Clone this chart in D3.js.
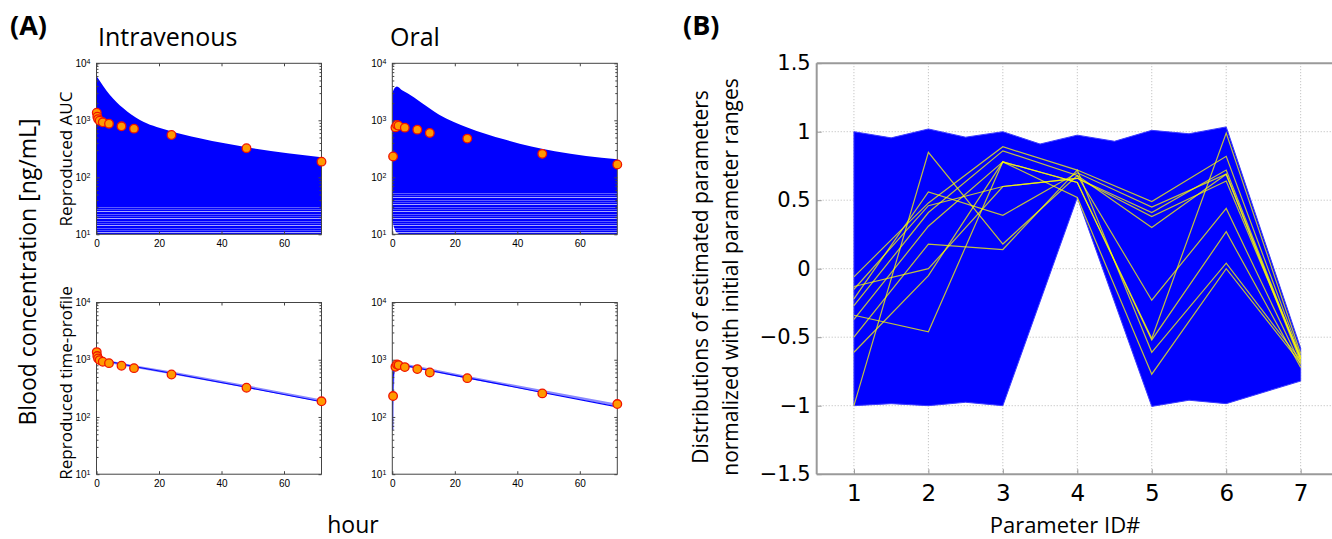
<!DOCTYPE html>
<html>
<head>
<meta charset="utf-8">
<script src="https://d3js.org/d3.v7.min.js"></script>
<style>
  body { margin: 0; background: #fff; }
  svg { display: block; }
</style>
</head>
<body>
<script>
// ---- data ----

// (A) observed concentrations [ng/mL]
var ivTimes   = [0.083, 0.25, 0.5, 1, 2, 4, 8, 12, 24, 48, 72];
var ivObs     = [1360, 1160, 1050, 985, 922, 872, 785, 713, 552, 324, 188];
var oralTimes = [0.25, 1, 1.5, 2, 4, 8, 12, 24, 48, 72];
var oralObs   = [232, 751, 828, 805, 743, 686, 600, 477, 258, 168];

// (A) upper envelope of the reproduced-AUC curves
var ivTopT   = [0, 4.3, 8.6, 13.9, 22.5, 33, 49, 72];
var ivTopC   = [6000, 2780, 1620, 1010, 676, 483, 330, 225];
var oralTopT = [0, 0.5, 1.5, 3, 5, 9, 15, 24, 36, 52, 72];
var oralTopC = [3000, 3500, 3900, 3400, 2950, 2100, 1250, 750, 460, 285, 207];
// white gap under the early oral curves
var oralGapT = [0, 0.6, 1.2, 2.5];
var oralGapC = [17, 13, 11, 10];
// level below which the curves thin out into stripes
var ivStripeTop = 32, oralStripeTop = 55;

// (A) reproduced time-profiles (two fits each)
var ivFitT   = [0, 0.25, 0.5, 1, 2, 4, 8, 12, 24, 48, 72];
var ivFit1   = [1300, 1150, 1080, 1040, 990, 930, 840, 760, 580, 330, 185];
var ivFit2   = [1250, 1120, 1060, 1020, 975, 920, 835, 760, 590, 340, 192];
var oralFitT = [0, 0.05, 0.15, 0.3, 0.5, 0.75, 1, 1.5, 2, 4, 8, 12, 24, 48, 72];
var oralFit1 = [58, 150, 330, 520, 640, 720, 770, 810, 820, 790, 715, 648, 482, 268, 150];
var oralFit2 = [60, 160, 350, 540, 660, 740, 790, 830, 840, 805, 730, 665, 495, 280, 162];

// (B) envelope of all normalized parameter sets
var bandTop = [[1, 1.0], [1.5, 0.955], [2, 1.02], [2.5, 0.96], [3, 1.0], [3.5, 0.91],
               [4, 0.975], [4.5, 0.93], [5, 1.01], [5.5, 0.985], [6, 1.035], [7, -0.58]];
var bandBottom = [[1, -1.0], [1.5, -0.985], [2, -1.0], [2.5, -0.975], [3, -1.0], [4, 0.52],
                  [5, -1.005], [5.5, -0.96], [6, -0.985], [7, -0.82]];
// (B) highlighted parameter sets (yellow)
var yellowSets = [
  [-1.0, 0.85, 0.18, 0.68, 0.30, 0.69, -0.66],
  [-0.34, -0.46, 0.78, 0.63, -0.51, 0.99, -0.62],
  [-0.06, 0.48, 0.89, 0.72, 0.49, 0.82, -0.64],
  [-0.13, 0.0, 0.60, 0.66, 0.41, 0.72, -0.66],
  [-0.22, 0.56, 0.39, 0.70, 0.45, 0.69, -0.68],
  [-0.27, 0.41, 0.86, 0.68, -0.23, 0.44, -0.70],
  [-0.37, 0.31, 0.78, 0.63, -0.52, 0.27, -0.72],
  [-0.50, 0.18, 0.14, 0.72, -0.61, 0.04, -0.67],
  [-0.61, -0.05, 0.78, 0.52, -0.77, 0.0, -0.69],
  [-0.15, 0.46, 0.60, 0.66, 0.38, 0.64, -0.65]
];
var paramIds = [1, 2, 3, 4, 5, 6, 7];
var bTicksY = [-1.5, -1, -0.5, 0, 0.5, 1, 1.5];

// ---- svg ----
var width = 1332, height = 539;
var svg = d3.select("body").append("svg")
    .attr("width", width)
    .attr("height", height);

var FONT = "'Open Sans', 'Noto Sans', sans-serif";
var SMALL = "'Liberation Sans', Arial, sans-serif";
var BLUE = "#0000ff";

var defs = svg.append("defs");
var pat = defs.append("pattern").attr("id", "stripes")
    .attr("patternUnits", "userSpaceOnUse")
    .attr("width", 10).attr("height", 7);
pat.append("rect").attr("width", 10).attr("height", 7).attr("fill", BLUE);
pat.append("rect").attr("y", 1).attr("width", 10).attr("height", 1).attr("fill", "#a8a8ff");
pat.append("rect").attr("y", 4).attr("width", 10).attr("height", 1).attr("fill", "#5c5cff");
pat.append("rect").attr("y", 6).attr("width", 10).attr("height", 0.6).attr("fill", "#8080ff");

function zip(a, b) { return a.map(function(d, i) { return [d, b[i]]; }); }

// one small pharmacokinetic subplot
function pkPanel(id, box, draw, times, obs) {
  var x = d3.scaleLinear().domain([0, 72]).range([box.left, box.right]);
  var y = d3.scaleLog().domain([10, 10000]).range([box.bottom, box.top]);

  defs.append("clipPath").attr("id", id).append("rect")
      .attr("x", box.left).attr("y", box.top)
      .attr("width", box.right - box.left).attr("height", box.bottom - box.top);

  var g = svg.append("g").attr("clip-path", "url(#" + id + ")");
  draw(g, x, y);

  var minor = [];
  [10, 100, 1000].forEach(function(b) { for (var k = 2; k < 10; k++) minor.push(b * k); });

  function styleAxis(sel) {
    sel.select(".domain").remove();
    sel.selectAll(".tick line").attr("stroke", "#444");
    sel.selectAll("text").attr("font-family", SMALL).attr("font-size", 10).attr("fill", "#000");
  }

  svg.append("g").attr("transform", "translate(0," + box.bottom + ")")
      .call(d3.axisBottom(x).tickValues([0, 20, 40, 60]).tickSize(-3).tickPadding(6).tickFormat(d3.format("d")))
      .call(styleAxis);
  svg.append("g").attr("transform", "translate(0," + box.top + ")")
      .call(d3.axisTop(x).tickValues([0, 20, 40, 60]).tickSize(-3).tickFormat(""))
      .call(styleAxis);

  var left = svg.append("g").attr("transform", "translate(" + box.left + ",0)")
      .call(d3.axisLeft(y).tickValues([10, 100, 1000, 10000]).tickSize(-3).tickPadding(6))
      .call(styleAxis);
  left.selectAll(".tick text").each(function(d) {
    var t = d3.select(this).text("10");
    t.append("tspan").attr("dy", "-0.45em").attr("font-size", 7)
      .text(Math.round(Math.log10(d)));
  });
  svg.append("g").attr("transform", "translate(" + box.left + ",0)")
      .call(d3.axisLeft(y).tickValues(minor).tickSize(-2).tickFormat(""))
      .call(styleAxis);
  svg.append("g").attr("transform", "translate(" + box.right + ",0)")
      .call(d3.axisRight(y).tickValues([10, 100, 1000, 10000]).tickSize(-3).tickFormat(""))
      .call(styleAxis);
  svg.append("g").attr("transform", "translate(" + box.right + ",0)")
      .call(d3.axisRight(y).tickValues(minor).tickSize(-2).tickFormat(""))
      .call(styleAxis);

  svg.append("rect")
      .attr("x", box.left).attr("y", box.top)
      .attr("width", box.right - box.left).attr("height", box.bottom - box.top)
      .attr("fill", "none").attr("stroke", "#444").attr("stroke-width", 1);

  // observed points are not clipped
  svg.append("g").selectAll("circle").data(zip(times, obs)).enter().append("circle")
      .attr("cx", function(d) { return x(d[0]); })
      .attr("cy", function(d) { return y(d[1]); })
      .attr("r", 4.3)
      .attr("fill", "#ff9a00")
      .attr("stroke", "#f01400")
      .attr("stroke-width", 1.3);
}

function drawBand(g, x, y, tt, cc, stripeTop) {
  var area = d3.area()
      .x(function(d) { return x(d[0]); })
      .y0(y(10))
      .y1(function(d) { return y(d[1]); })
      .curve(d3.curveMonotoneX);
  g.append("path").datum(zip(tt, cc)).attr("d", area).attr("fill", BLUE);
  g.append("rect")
      .attr("x", x(0)).attr("y", y(stripeTop))
      .attr("width", x(72) - x(0)).attr("height", y(10) - y(stripeTop))
      .attr("fill", "url(#stripes)");
}

function drawFits(g, x, y, tt, fits) {
  var line = d3.line()
      .x(function(d) { return x(d[0]); })
      .y(function(d) { return y(d[1]); });
  g.append("path").datum(zip(tt, fits[1])).attr("d", line)
      .attr("fill", "none").attr("stroke", "#8a8aff").attr("stroke-width", 2.6);
  g.append("path").datum(zip(tt, fits[0])).attr("d", line)
      .attr("fill", "none").attr("stroke", BLUE).attr("stroke-width", 1.1);
}

var colL = {left: 96.5, right: 321.5};
var colR = {left: 392.3, right: 617.3};
var rowT = {top: 63.3, bottom: 234.3};
var rowB = {top: 302.5, bottom: 474.2};

pkPanel("c1", {left: colL.left, right: colL.right, top: rowT.top, bottom: rowT.bottom}, function(g, x, y) {
  drawBand(g, x, y, ivTopT, ivTopC, ivStripeTop);
}, ivTimes, ivObs);
pkPanel("c2", {left: colR.left, right: colR.right, top: rowT.top, bottom: rowT.bottom}, function(g, x, y) {
  drawBand(g, x, y, oralTopT, oralTopC, oralStripeTop);
  g.append("path").datum(zip(oralGapT, oralGapC))
      .attr("d", d3.area().x(function(d) { return x(d[0]); }).y0(y(10))
          .y1(function(d) { return y(d[1]); }).curve(d3.curveMonotoneX))
      .attr("fill", "#fff");
}, oralTimes, oralObs);
pkPanel("c3", {left: colL.left, right: colL.right, top: rowB.top, bottom: rowB.bottom}, function(g, x, y) {
  drawFits(g, x, y, ivFitT, [ivFit1, ivFit2]);
}, ivTimes, ivObs);
pkPanel("c4", {left: colR.left, right: colR.right, top: rowB.top, bottom: rowB.bottom}, function(g, x, y) {
  drawFits(g, x, y, oralFitT, [oralFit1, oralFit2]);
}, oralTimes, oralObs);

// (A) texts
svg.append("text").attr("x", 10).attr("y", 35).attr("font-family", FONT)
    .attr("font-size", 27).attr("font-weight", "bold").text("(A)");
svg.append("text").attr("x", 98).attr("y", 46).attr("font-family", FONT)
    .attr("font-size", 25).text("Intravenous");
svg.append("text").attr("x", 390).attr("y", 46).attr("font-family", FONT)
    .attr("font-size", 25).text("Oral");
svg.append("text").attr("transform", "translate(36,272) rotate(-90)")
    .attr("text-anchor", "middle").attr("font-family", FONT)
    .attr("font-size", 23).text("Blood concentration [ng/mL]");
svg.append("text").attr("transform", "translate(72,159) rotate(-90)")
    .attr("text-anchor", "middle").attr("font-family", FONT)
    .attr("font-size", 17).text("Reproduced AUC");
svg.append("text").attr("transform", "translate(72,383) rotate(-90)")
    .attr("text-anchor", "middle").attr("font-family", FONT)
    .attr("font-size", 17).text("Reproduced time-profile");
svg.append("text").attr("x", 353).attr("y", 533).attr("text-anchor", "middle")
    .attr("font-family", FONT).attr("font-size", 23).text("hour");

// ---- (B) parallel coordinates ----
var bx = d3.scaleLinear().domain([0.5, 7.5]).range([816.7, 1337.9]);
var by = d3.scaleLinear().domain([-1.5, 1.5]).range([474.2, 63.2]);

var grid = svg.append("g").attr("stroke", "#b8b8b8").attr("stroke-dasharray", "1,2");
grid.selectAll(null).data(paramIds).enter().append("line")
    .attr("x1", function(d) { return bx(d); }).attr("x2", function(d) { return bx(d); })
    .attr("y1", by(1.5)).attr("y2", by(-1.5));
grid.selectAll(null).data(bTicksY.slice(1, -1)).enter().append("line")
    .attr("x1", bx(0.5)).attr("x2", width)
    .attr("y1", function(d) { return by(d); }).attr("y2", function(d) { return by(d); });

var bandPath = d3.line()
    .x(function(d) { return bx(d[0]); })
    .y(function(d) { return by(d[1]); });
svg.append("path")
    .attr("d", bandPath(bandTop.concat(bandBottom.slice().reverse())) + "Z")
    .attr("fill", BLUE).attr("stroke", "#3c3cff").attr("stroke-width", 1);

var yl = d3.line()
    .x(function(d, i) { return bx(paramIds[i]); })
    .y(function(d) { return by(d); });
svg.append("g").selectAll("path").data(yellowSets).enter().append("path")
    .attr("d", yl)
    .attr("fill", "none").attr("stroke", "#ffff00")
    .attr("stroke-width", 1.2).attr("stroke-opacity", 0.75);

// axes of (B)
var axB = svg.append("g").attr("transform", "translate(" + bx(0.5) + ",0)")
    .call(d3.axisLeft(by).tickValues(bTicksY).tickSize(-5).tickPadding(6).tickFormat(d3.format("~g")));
axB.select(".domain").remove();
axB.selectAll(".tick line").attr("stroke", "#999");
axB.selectAll("text").attr("font-family", "'DejaVu Sans', sans-serif").attr("font-size", 21).attr("fill", "#000");

var axBx = svg.append("g").attr("transform", "translate(0," + by(-1.5) + ")")
    .call(d3.axisBottom(bx).tickValues(paramIds).tickSize(-5).tickPadding(10).tickFormat(d3.format("d")));
axBx.select(".domain").remove();
axBx.selectAll(".tick line").attr("stroke", "#999");
axBx.selectAll("text").attr("font-family", "'DejaVu Sans', sans-serif").attr("font-size", 23).attr("fill", "#000");

var frame = svg.append("g").attr("stroke", "#9a9a9a").attr("stroke-width", 2).attr("fill", "none");
frame.append("line").attr("x1", bx(0.5)).attr("x2", bx(0.5)).attr("y1", by(1.5)).attr("y2", by(-1.5));
frame.append("line").attr("x1", bx(0.5)).attr("x2", width).attr("y1", by(1.5)).attr("y2", by(1.5));
frame.append("line").attr("x1", bx(0.5)).attr("x2", width).attr("y1", by(-1.5)).attr("y2", by(-1.5));

svg.append("text").attr("x", 683).attr("y", 35).attr("font-family", FONT)
    .attr("font-size", 27).attr("font-weight", "bold").text("(B)");
svg.append("text").attr("transform", "translate(708,277) rotate(-90)")
    .attr("text-anchor", "middle").attr("font-family", FONT)
    .attr("font-size", 21).text("Distributions of estimated parameters");
svg.append("text").attr("transform", "translate(738,277) rotate(-90)")
    .attr("text-anchor", "middle").attr("font-family", FONT)
    .attr("font-size", 21).text("normalized with initial parameter ranges");
svg.append("text").attr("x", 1065).attr("y", 533).attr("text-anchor", "middle")
    .attr("font-family", FONT).attr("font-size", 22).text("Parameter ID#");
</script>
</body>
</html>
